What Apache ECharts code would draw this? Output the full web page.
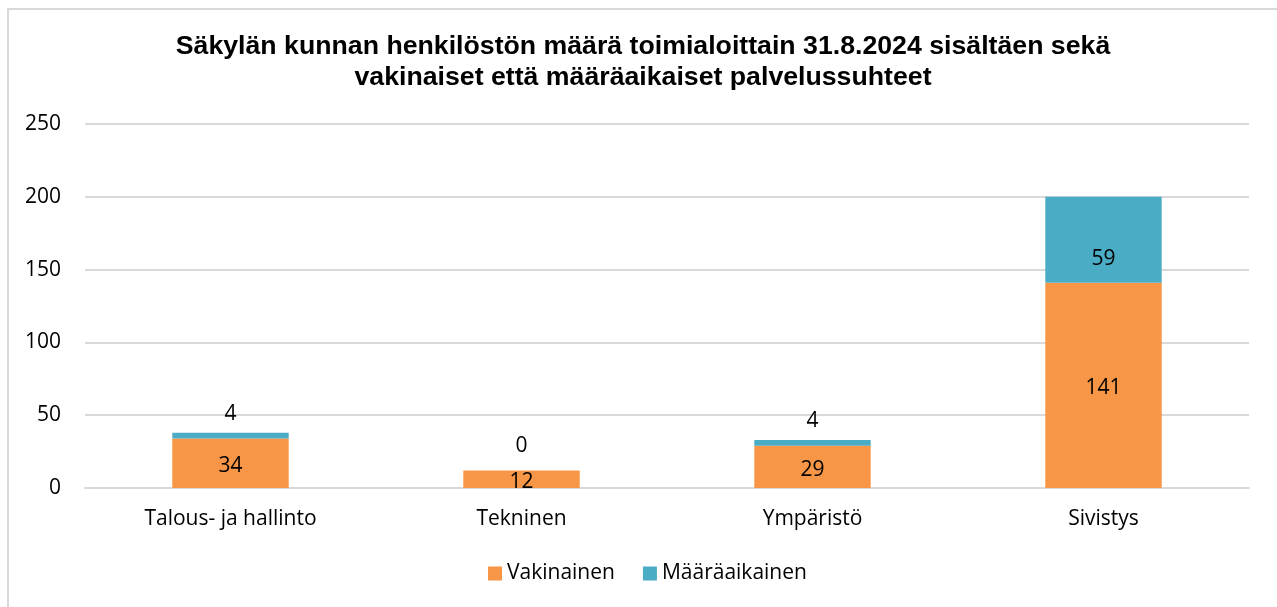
<!DOCTYPE html>
<html>
<head>
<meta charset="utf-8">
<script src="https://cdn.jsdelivr.net/npm/echarts@6/dist/echarts.min.js"></script>
<style>
  html, body { margin: 0; padding: 0; background: #fff; }
  #chart { width: 1277px; height: 607px; }
</style>
</head>
<body>
<div id="chart"></div>
<script>
const categories = ['Talous- ja hallinto', 'Tekninen', 'Ympäristö', 'Sivistys'];
const vakinainen = [34, 12, 29, 141];
const maaraaikainen = [4, 0, 4, 59];
const seriesNames = ['Vakinainen', 'Määräaikainen'];

const labelFont = '"Open Sans", Lato, sans-serif';

// pienet osuudet: arvo palkin yläpuolelle (kuten Excelissä)
const topItems = maaraaikainen.map((v) => {
  if (v >= 20) return { value: v, label: { offset: [0, 19] } };
  return {
    value: v,
    label: { position: 'top', distance: v === 0 ? 14 : 8 }
  };
});

const chart = echarts.init(document.getElementById('chart'));
const option = {
  animation: false,
  graphic: [{
    type: 'rect',
    silent: true,
    shape: { x: 8, y: 9, width: 1400, height: 800 },
    style: { fill: 'none', stroke: '#d9d9d9', lineWidth: 2 }
  }],
  title: {
    text: 'Säkylän kunnan henkilöstön määrä toimialoittain 31.8.2024 sisältäen sekä\nvakinaiset että määräaikaiset palvelussuhteet',
    left: 638,
    top: 26,
    textAlign: 'center',
    textStyle: {
      fontFamily: '"Liberation Sans", Arial, sans-serif',
      fontWeight: 'bold',
      fontSize: 26.7,
      lineHeight: 31,
      color: '#000'
    }
  },
  legend: {
    data: seriesNames,
    top: 558,
    left: 483,
    icon: 'rect',
    itemWidth: 14,
    itemHeight: 14,
    itemGap: 28,
    textStyle: { fontFamily: labelFont, fontSize: 21, color: '#000' }
  },
  grid: {
    left: 85,
    right: 28,
    top: 124,
    bottom: 119,
    containLabel: false
  },
  xAxis: {
    type: 'category',
    data: categories,
    axisTick: { show: false },
    axisLine: { lineStyle: { color: '#d9d9d9', width: 2 } },
    axisLabel: {
      margin: 21,
      fontFamily: labelFont,
      fontSize: 21,
      color: '#000'
    }
  },
  yAxis: {
    type: 'value',
    min: 0,
    max: 250,
    interval: 50,
    axisLine: { show: false },
    axisTick: { show: false },
    splitLine: { lineStyle: { color: '#d9d9d9', width: 2 } },
    axisLabel: {
      margin: 24,
      padding: [4, 0, 0, 0],
      fontFamily: labelFont,
      fontSize: 21,
      color: '#000'
    }
  },
  series: [{
    name: seriesNames[0],
    type: 'bar',
    stack: 'total',
    barWidth: '40%',
    data: vakinainen,
    itemStyle: { color: '#F79646' },
    label: {
      show: true,
      position: 'inside',
      offset: [0, 3],
      fontFamily: labelFont,
      fontSize: 21,
      color: '#000'
    }
  }, {
    name: seriesNames[1],
    type: 'bar',
    stack: 'total',
    barWidth: '40%',
    data: topItems,
    itemStyle: { color: '#4BACC6' },
    label: {
      show: true,
      position: 'inside',
      fontFamily: labelFont,
      fontSize: 21,
      color: '#000'
    }
  }]
};
chart.setOption(option);
</script>
</body>
</html>
